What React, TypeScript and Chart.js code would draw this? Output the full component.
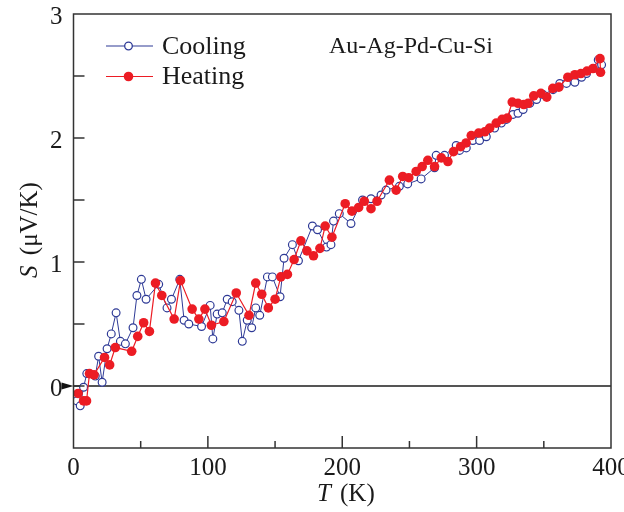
import React, { useEffect, useRef } from 'react';
import { Chart, registerables } from 'chart.js';
Chart.register(...registerables);

// Cooling run (open circles)
const coolingT = [2.5, 5.0, 7.5, 9.9, 16.2, 18.7, 21.3, 25.0, 28.1, 31.7, 34.9, 38.6, 44.3, 47.2, 50.5, 54.0, 63.4, 69.6, 72.9, 79.1, 82.3, 85.8, 95.3, 101.7, 103.7, 106.9, 110.7, 114.4, 118.1, 123.1, 125.6, 129.3, 132.6, 135.6, 138.6, 144.3, 148.0, 153.7, 156.7, 162.9, 167.4, 177.8, 181.6, 188.3, 191.6, 193.5, 197.8, 206.5, 215.1, 221.4, 228.9, 232.6, 242.5, 248.7, 258.7, 268.7, 269.9, 276.1, 284.8, 287.3, 292.3, 297.2, 302.2, 307.2, 313.4, 318.4, 322.2, 327.1, 330.8, 334.6, 339.6, 344.6, 349.5, 356.9, 361.9, 366.9, 373.1, 378.1, 381.8, 386.8, 390.5, 393.0];
const coolingS = [-0.12, -0.16, -0.01, 0.10, 0.08, 0.24, 0.03, 0.30, 0.42, 0.59, 0.36, 0.34, 0.47, 0.73, 0.86, 0.70, 0.82, 0.63, 0.70, 0.86, 0.53, 0.50, 0.48, 0.65, 0.38, 0.58, 0.59, 0.70, 0.68, 0.61, 0.36, 0.53, 0.47, 0.63, 0.57, 0.88, 0.88, 0.72, 1.03, 1.14, 1.01, 1.29, 1.26, 1.12, 1.14, 1.33, 1.39, 1.31, 1.50, 1.51, 1.54, 1.58, 1.61, 1.63, 1.67, 1.76, 1.86, 1.86, 1.94, 1.90, 1.92, 1.98, 1.98, 2.01, 2.08, 2.12, 2.15, 2.19, 2.20, 2.23, 2.28, 2.31, 2.35, 2.39, 2.44, 2.44, 2.45, 2.49, 2.52, 2.56, 2.63, 2.59];

// Heating run (filled circles)
const heatingT = [3.4, 7.5, 9.7, 11.9, 15.3, 23.1, 26.9, 31.1, 43.3, 47.8, 52.2, 56.5, 61.0, 65.7, 74.9, 79.6, 88.3, 93.3, 97.8, 102.6, 111.9, 121.1, 130.6, 135.6, 140.1, 145.0, 150.0, 154.3, 159.2, 164.2, 169.2, 173.7, 178.6, 183.4, 187.3, 192.3, 202.2, 207.2, 212.2, 216.4, 221.4, 225.9, 235.1, 240.1, 245.0, 249.5, 255.0, 259.5, 263.7, 268.7, 273.7, 278.6, 282.8, 288.1, 292.2, 296.0, 301.5, 306.0, 309.7, 314.6, 319.0, 322.8, 326.5, 330.8, 335.1, 338.3, 342.5, 347.8, 352.2, 356.7, 361.2, 367.9, 373.1, 377.6, 382.1, 386.6, 391.8, 392.2];
const heatingS = [-0.06, -0.12, -0.12, 0.10, 0.09, 0.23, 0.17, 0.31, 0.28, 0.40, 0.51, 0.44, 0.83, 0.73, 0.54, 0.85, 0.62, 0.54, 0.62, 0.49, 0.52, 0.75, 0.57, 0.83, 0.74, 0.63, 0.70, 0.88, 0.90, 1.02, 1.17, 1.09, 1.05, 1.11, 1.29, 1.20, 1.47, 1.41, 1.44, 1.49, 1.43, 1.49, 1.66, 1.58, 1.69, 1.68, 1.73, 1.77, 1.82, 1.77, 1.84, 1.81, 1.89, 1.93, 1.96, 2.02, 2.04, 2.05, 2.08, 2.12, 2.15, 2.16, 2.29, 2.28, 2.27, 2.28, 2.34, 2.36, 2.33, 2.40, 2.41, 2.49, 2.51, 2.52, 2.54, 2.56, 2.64, 2.53];

const xLabels = [0, 100, 200, 300, 400];
const yLabels = [0, 1, 2, 3];
const seriesNames = ['Cooling', 'Heating'];
const sampleLabel = 'Au-Ag-Pd-Cu-Si';

const SERIF = '"Liberation Serif", "Times New Roman", serif';
const BLUE = '#2e3a96';
const RED = '#ec1c24';
const AXIS = '#333333';
const TEXT = '#1a1a1a';

const decor = {
  id: 'decor',
  afterDraw(chart: any) {
    const { ctx, chartArea: a, scales } = chart;
    const x = scales.x, y = scales.y;
    ctx.save();
    ctx.strokeStyle = AXIS;
    ctx.lineWidth = 1.5;
    ctx.strokeRect(a.left, a.top, a.right - a.left, a.bottom - a.top);
    // inward x ticks
    for (let v = 50; v < 400; v += 50) {
      const px = x.getPixelForValue(v);
      const len = v % 100 === 0 ? 12 : 7;
      ctx.beginPath();
      ctx.moveTo(px, a.bottom);
      ctx.lineTo(px, a.bottom - len);
      ctx.stroke();
    }
    // inward y ticks
    for (let v = 0; v < 3; v += 0.5) {
      const py = y.getPixelForValue(v);
      ctx.beginPath();
      ctx.moveTo(a.left, py);
      ctx.lineTo(a.left + 11, py);
      ctx.stroke();
    }
    // zero marker triangle
    const zy = y.getPixelForValue(0);
    ctx.fillStyle = '#111';
    ctx.beginPath();
    ctx.moveTo(a.left - 12, zy - 3.5);
    ctx.lineTo(a.left, zy);
    ctx.lineTo(a.left - 12, zy + 3.5);
    ctx.closePath();
    ctx.fill();

    // legend
    const legendRows = [
      { name: seriesNames[0], color: BLUE, filled: false, yy: 46 },
      { name: seriesNames[1], color: RED, filled: true, yy: 76.5 },
    ];
    ctx.font = `26px ${SERIF}`;
    ctx.textBaseline = 'middle';
    for (const r of legendRows) {
      ctx.strokeStyle = r.color;
      ctx.lineWidth = 1.2;
      ctx.beginPath();
      ctx.moveTo(106, r.yy);
      ctx.lineTo(153, r.yy);
      ctx.stroke();
      ctx.beginPath();
      ctx.arc(128.5, r.yy, r.filled ? 4.8 : 3.8, 0, Math.PI * 2);
      if (r.filled) {
        ctx.fillStyle = r.color;
        ctx.fill();
      } else {
        ctx.fillStyle = '#fff';
        ctx.fill();
        ctx.lineWidth = 1.3;
        ctx.stroke();
      }
      ctx.fillStyle = TEXT;
      ctx.textAlign = 'left';
      ctx.fillText(r.name, 162, r.yy + 1);
    }
    // sample label
    ctx.font = `24px ${SERIF}`;
    ctx.fillStyle = TEXT;
    ctx.fillText(sampleLabel, 329, 47);

    // y-axis title
    ctx.save();
    ctx.translate(30, 230);
    ctx.rotate(-Math.PI / 2);
    const fi = `italic 25px ${SERIF}`;
    const fn = `25px ${SERIF}`;
    ctx.font = fi;
    const wS = ctx.measureText('S').width;
    ctx.font = fn;
    const rest = ' (\u03bcV/K)';
    const wR = ctx.measureText(rest).width;
    const start = -(wS + wR + 4) / 2;
    ctx.textAlign = 'left';
    ctx.font = fi;
    ctx.fillText('S', start, 0);
    ctx.font = fn;
    ctx.fillText(rest, start + wS + 4, 0);
    ctx.restore();

    // x-axis title
    ctx.font = fi;
    ctx.textAlign = 'left';
    ctx.fillText('T', 317, 494);
    ctx.font = fn;
    ctx.fillText('(K)', 340, 494);
    ctx.restore();
  },
};

export default function App() {
  const ref = useRef<HTMLCanvasElement | null>(null);
  useEffect(() => {
    document.body.style.margin = '0';
    const cooling = coolingT.map((t, i) => ({ x: t, y: coolingS[i] }));
    const heating = heatingT.map((t, i) => ({ x: t, y: heatingS[i] }));
    const chart = new Chart(ref.current!, {
      type: 'scatter',
      data: {
        datasets: [
          {
            label: seriesNames[1],
            data: heating,
            showLine: true,
            borderColor: RED,
            backgroundColor: RED,
            borderWidth: 1.2,
            pointRadius: 4.8,
            pointBorderWidth: 0,
            pointBackgroundColor: RED,
            order: 0,
          },
          {
            label: seriesNames[0],
            data: cooling,
            showLine: true,
            borderColor: BLUE,
            backgroundColor: '#ffffff',
            borderWidth: 1,
            pointRadius: 3.9,
            pointBorderWidth: 1.2,
            pointBorderColor: BLUE,
            pointBackgroundColor: '#ffffff',
            order: 1,
          },
        ],
      },
      options: {
        animation: false,
        responsive: false,
        maintainAspectRatio: false,
        layout: { padding: { top: 14, right: 13, left: 0, bottom: 0 } },
        plugins: { legend: { display: false }, tooltip: { enabled: false } },
        scales: {
          x: {
            type: 'linear',
            min: 0,
            max: 400,
            border: { display: false },
            grid: { display: false, drawTicks: false },
            ticks: {
              stepSize: 100,
              padding: 5,
              color: TEXT,
              font: { family: SERIF, size: 25 },
              callback: (v: any) => (xLabels.includes(Number(v)) ? String(v) : ''),
            },
            afterFit: (s: any) => {
              s.height = 64;
              s.paddingLeft = 0;
              s.paddingRight = 0;
            },
          },
          y: {
            type: 'linear',
            min: -0.5,
            max: 3,
            border: { display: false },
            grid: {
              drawTicks: false,
              color: (c: any) => (c.tick && c.tick.value === 0 ? '#555555' : 'rgba(0,0,0,0)'),
              lineWidth: (c: any) => (c.tick && c.tick.value === 0 ? 2 : 0),
            },
            ticks: {
              stepSize: 0.5,
              padding: 11,
              labelOffset: 3,
              color: TEXT,
              font: { family: SERIF, size: 25 },
              callback: (v: any) => (yLabels.includes(Number(v)) ? String(v) : ''),
            },
            afterFit: (s: any) => {
              s.width = 73.5;
              s.paddingTop = 0;
              s.paddingBottom = 0;
            },
          },
        },
      },
      plugins: [decor],
    });
    return () => chart.destroy();
  }, []);
  return (
    <div style={{ position: 'absolute', left: 0, top: 0, width: 624, height: 512 }}>
      <canvas ref={ref} width={624} height={512} style={{ width: 624, height: 512, display: 'block' }} />
    </div>
  );
}
